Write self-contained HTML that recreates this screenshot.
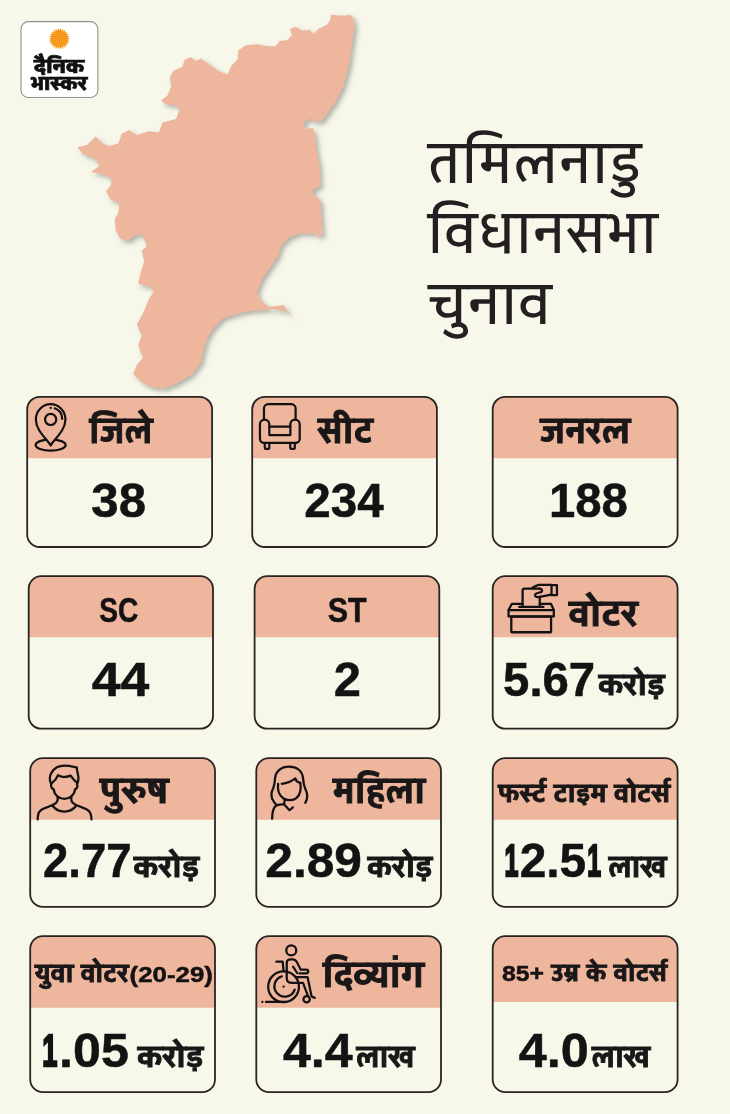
<!DOCTYPE html>
<html lang="hi">
<head>
<meta charset="utf-8">
<title>तमिलनाडु विधानसभा चुनाव</title>
<style>
html,body{margin:0;padding:0;}
body{width:730px;height:1114px;overflow:hidden;background:#f7f8ea;position:relative;
 font-family:"Liberation Sans","Yantramanav","Noto Sans Devanagari","Mukta","Lohit Devanagari",sans-serif;color:#1a1718;}
.abs{position:absolute;}
.hd{fill:#eeb69d;}
.cd{fill:none;stroke:#2a2423;stroke-width:1.8;}
svg text{font-family:"Liberation Sans","Yantramanav","Noto Sans Devanagari","Mukta","Lohit Devanagari",sans-serif;}
.lb{font-weight:700;fill:#1a1718;stroke:#1a1718;stroke-width:0.9;stroke-linejoin:miter;}
.nm{font-weight:700;fill:#141213;stroke:#141213;stroke-width:0.5;}
.tt{font-weight:400;fill:#231f20;}
.lg{font-weight:900;fill:#111;stroke:#111;stroke-width:0.7;}
</style>
</head>
<body>
<svg id="ov" class="abs" style="left:0;top:0" width="730" height="1114" viewBox="0 0 730 1114">
 <defs><filter id="sh" x="-10%" y="-10%" width="125%" height="125%"><feDropShadow dx="3" dy="3" stdDeviation="2.5" flood-color="#6b6b66" flood-opacity="0.5"/></filter></defs>
<rect x="21" y="21.6" width="76.9" height="75.9" rx="7.5" fill="#fff" stroke="#92928e" stroke-width="1.1"/>
<path class="hd" d="M27.2 458.3V409.4A12.6 12.6 0 0 1 39.8 396.8H199.5A12.6 12.6 0 0 1 212.1 409.4V458.3Z"/>
<rect class="cd" x="27.2" y="396.8" width="184.9" height="150.2" rx="12.6" ry="12.6"/>
<path class="hd" d="M252.2 458.3V409.4A12.6 12.6 0 0 1 264.8 396.8H424.3A12.6 12.6 0 0 1 436.9 409.4V458.3Z"/>
<rect class="cd" x="252.2" y="396.8" width="184.7" height="150.2" rx="12.6" ry="12.6"/>
<path class="hd" d="M492.7 458.3V409.4A12.6 12.6 0 0 1 505.3 396.8H665.0A12.6 12.6 0 0 1 677.6 409.4V458.3Z"/>
<rect class="cd" x="492.7" y="396.8" width="184.9" height="150.2" rx="12.6" ry="12.6"/>
<path class="hd" d="M28.7 637.2V588.8A12.6 12.6 0 0 1 41.3 576.2H200.4A12.6 12.6 0 0 1 213.0 588.8V637.2Z"/>
<rect class="cd" x="28.7" y="576.2" width="184.3" height="152.5" rx="12.6" ry="12.6"/>
<path class="hd" d="M254.6 637.2V588.8A12.6 12.6 0 0 1 267.2 576.2H426.7A12.6 12.6 0 0 1 439.3 588.8V637.2Z"/>
<rect class="cd" x="254.6" y="576.2" width="184.7" height="152.5" rx="12.6" ry="12.6"/>
<path class="hd" d="M492.7 637.2V588.8A12.6 12.6 0 0 1 505.3 576.2H665.0A12.6 12.6 0 0 1 677.6 588.8V637.2Z"/>
<rect class="cd" x="492.7" y="576.2" width="184.9" height="152.5" rx="12.6" ry="12.6"/>
<path class="hd" d="M30.2 819.7V770.8A12.6 12.6 0 0 1 42.8 758.2H202.4A12.6 12.6 0 0 1 215.0 770.8V819.7Z"/>
<rect class="cd" x="30.2" y="758.2" width="184.8" height="148.6" rx="12.6" ry="12.6"/>
<path class="hd" d="M256.3 819.7V770.8A12.6 12.6 0 0 1 268.9 758.2H428.4A12.6 12.6 0 0 1 441.0 770.8V819.7Z"/>
<rect class="cd" x="256.3" y="758.2" width="184.7" height="148.6" rx="12.6" ry="12.6"/>
<path class="hd" d="M492.7 819.7V770.8A12.6 12.6 0 0 1 505.3 758.2H665.0A12.6 12.6 0 0 1 677.6 770.8V819.7Z"/>
<rect class="cd" x="492.7" y="758.2" width="184.9" height="148.6" rx="12.6" ry="12.6"/>
<path class="hd" d="M30.2 1007.7V948.8A12.6 12.6 0 0 1 42.8 936.2H202.4A12.6 12.6 0 0 1 215.0 948.8V1007.7Z"/>
<rect class="cd" x="30.2" y="936.2" width="184.8" height="155.9" rx="12.6" ry="12.6"/>
<path class="hd" d="M256.3 1007.7V948.8A12.6 12.6 0 0 1 268.9 936.2H428.4A12.6 12.6 0 0 1 441.0 948.8V1007.7Z"/>
<rect class="cd" x="256.3" y="936.2" width="184.7" height="155.9" rx="12.6" ry="12.6"/>
<path class="hd" d="M492.7 1002.0V948.8A12.6 12.6 0 0 1 505.3 936.2H665.0A12.6 12.6 0 0 1 677.6 948.8V1002.0Z"/>
<rect class="cd" x="492.7" y="936.2" width="184.9" height="155.9" rx="12.6" ry="12.6"/>
 <polygon filter="url(#sh)" fill="#eeb69d" points="77.4,147.2 87.3,144.8 95.9,136.2 102.0,143.5 109.4,146.0 118.1,143.5 121.8,133.7 129.2,130.0 136.6,134.9 148.9,131.2 158.8,132.5 162.5,122.6 176.0,118.9 179.7,109.0 176.0,105.3 164.9,104.1 161.2,100.4 167.4,95.5 171.1,86.8 169.9,77.0 173.6,70.8 182.2,67.1 184.6,59.7 190.8,57.3 195.7,61.0 200.7,58.5 208.1,63.4 217.9,70.8 227.8,74.5 231.3,65.7 237.5,59.6 238.5,50.3 245.7,45.2 257.0,44.2 267.3,46.2 275.5,46.2 279.6,41.1 287.8,40.1 291.9,34.9 289.9,28.8 296.0,26.7 302.2,30.8 309.4,29.8 313.5,33.9 318.6,28.8 326.8,24.7 329.9,20.5 331.0,14.4 337.1,15.4 345.3,15.4 350.5,14.4 353.5,18.5 354.6,26.7 351.5,47.3 348.4,67.8 343.3,86.3 336.1,100.7 328.9,111.0 322.7,119.5 320.5,121.5 312.9,121.5 310.8,118.3 304.3,121.5 304.3,129.0 312.9,128.0 315.1,135.5 316.2,149.5 319.4,164.6 320.5,186.2 312.9,189.4 312.9,193.7 320.5,200.2 321.6,220.6 322.6,233.6 319.4,237.9 316.2,233.6 298.9,233.6 288.2,237.9 280.6,246.5 278.5,255.1 270.9,265.9 262.3,278.8 256.9,291.7 260.2,300.3 268.8,306.8 279.5,305.7 283.9,304.7 286.0,310.0 292.5,315.4 283.9,311.1 273.1,309.0 262.3,310.0 250.0,311.0 237.9,313.5 223.1,318.2 213.3,328.1 207.1,337.9 203.4,350.3 200.9,362.6 191.1,374.9 176.3,383.5 164.0,388.5 151.6,387.2 141.8,382.3 133.1,373.7 136.8,365.0 143.0,357.7 138.1,345.3 141.8,335.5 136.8,324.4 143.0,313.3 149.2,298.5 154.1,291.1 149.2,286.2 138.1,283.7 140.5,273.8 144.2,261.5 141.8,250.4 146.7,246.7 143.0,235.6 135.6,234.4 128.2,240.5 120.8,239.3 115.9,230.7 114.7,219.6 118.4,212.2 119.6,202.3 111.0,199.9 106.0,191.2 110.7,185.5 111.9,179.3 104.5,174.4 91.0,171.9 99.6,165.7 94.7,158.3 82.3,153.4"/>
 <g transform="translate(59.3 38.8)" fill="#f59a1c"><circle r="8.4"/><polygon points="10.80,0.00 8.14,0.99 10.49,2.58 7.67,2.91 9.56,5.02 6.75,4.66 8.08,7.16 5.44,6.14 6.14,8.89 3.81,7.26 3.83,10.10 1.96,7.96 1.30,10.72 -0.00,8.20 -1.30,10.72 -1.96,7.96 -3.83,10.10 -3.81,7.26 -6.14,8.89 -5.44,6.14 -8.08,7.16 -6.75,4.66 -9.56,5.02 -7.67,2.91 -10.49,2.58 -8.14,0.99 -10.80,-0.00 -8.14,-0.99 -10.49,-2.58 -7.67,-2.91 -9.56,-5.02 -6.75,-4.66 -8.08,-7.16 -5.44,-6.14 -6.14,-8.89 -3.81,-7.26 -3.83,-10.10 -1.96,-7.96 -1.30,-10.72 -0.00,-8.20 1.30,-10.72 1.96,-7.96 3.83,-10.10 3.81,-7.26 6.14,-8.89 5.44,-6.14 8.08,-7.16 6.75,-4.66 9.56,-5.02 7.67,-2.91 10.49,-2.58 8.14,-0.99"/></g>
<text class="lb" x="89.4" y="442.65" font-size="38" textLength="63.67" lengthAdjust="spacingAndGlyphs">जिले</text>
<text class="lb" x="317.92" y="442.75" font-size="38" textLength="55.32" lengthAdjust="spacingAndGlyphs">सीट</text>
<text class="lb" x="540.21" y="442.75" font-size="38" textLength="90.54" lengthAdjust="spacingAndGlyphs">जनरल</text>
<text class="nm" x="91.32" y="516.55" font-size="48" textLength="54.75" lengthAdjust="spacingAndGlyphs">38</text>
<text class="nm" x="304.27" y="516.55" font-size="48" textLength="79.37" lengthAdjust="spacingAndGlyphs">234</text>
<text class="nm" x="548.89" y="516.55" font-size="48" textLength="78.93" lengthAdjust="spacingAndGlyphs">188</text>
<text class="nm" x="99.35" y="621.85" font-size="35" textLength="39.01" lengthAdjust="spacingAndGlyphs">SC</text>
<text class="nm" x="327.78" y="621.85" font-size="35" textLength="39.01" lengthAdjust="spacingAndGlyphs">ST</text>
<text class="lb" x="568.96" y="626.45" font-size="38" textLength="69.32" lengthAdjust="spacingAndGlyphs">वोटर</text>
<text class="nm" x="91.77" y="695.65" font-size="48" textLength="57.6" lengthAdjust="spacingAndGlyphs">44</text>
<text class="nm" x="333.82" y="695.65" font-size="48" textLength="27.17" lengthAdjust="spacingAndGlyphs">2</text>
<text class="nm" x="503.08" y="695.65" font-size="48" textLength="92.06" lengthAdjust="spacingAndGlyphs">5.67</text>
<text class="lb" x="598.75" y="695.45" font-size="31" textLength="66.17" lengthAdjust="spacingAndGlyphs" stroke-width="0.7">करोड़</text>
<text class="lb" x="100.11" y="803.35" font-size="38" textLength="68.8" lengthAdjust="spacingAndGlyphs">पुरुष</text>
<text class="lb" x="332.92" y="803.35" font-size="38" textLength="92.62" lengthAdjust="spacingAndGlyphs">महिला</text>
<text class="lb" x="498.25" y="801.65" font-size="26.2" textLength="172.35" lengthAdjust="spacingAndGlyphs" stroke-width="0.5">फर्स्ट टाइम वोटर्स</text>
<text class="nm" x="42.95" y="877.25" font-size="48" textLength="88.59" lengthAdjust="spacingAndGlyphs">2.77</text>
<text class="lb" x="133.95" y="876.95" font-size="31" textLength="65.38" lengthAdjust="spacingAndGlyphs" stroke-width="0.7">करोड़</text>
<text class="nm" x="265.28" y="877.25" font-size="48" textLength="96.74" lengthAdjust="spacingAndGlyphs">2.89</text>
<text class="lb" x="367.65" y="876.95" font-size="31" textLength="64.98" lengthAdjust="spacingAndGlyphs" stroke-width="0.7">करोड़</text>
<text class="nm"><tspan x="504.53" y="876.3" font-size="45" textLength="13.95" lengthAdjust="spacingAndGlyphs" stroke-width="2.4">1</tspan><tspan x="519.66" y="877.25" font-size="48" textLength="66.52" lengthAdjust="spacingAndGlyphs" stroke-width="0.5">2.5</tspan><tspan x="587.34" y="876.3" font-size="45" textLength="13.83" lengthAdjust="spacingAndGlyphs" stroke-width="2.4">1</tspan></text>
<text class="lb" x="608.65" y="877.15" font-size="31" textLength="58.25" lengthAdjust="spacingAndGlyphs" stroke-width="0.7">लाख</text>
<text class="lb" x="34.95" y="982.15" font-size="26.2" textLength="93.91" lengthAdjust="spacingAndGlyphs" stroke-width="0.5">युवा वोटर</text>
<text class="nm" x="129.61" y="982.15" font-size="22.7" textLength="83.24" lengthAdjust="spacingAndGlyphs">(20-29)</text>
<text class="lb" x="322.94" y="987.15" font-size="38" textLength="101.53" lengthAdjust="spacingAndGlyphs">दिव्यांग</text>
<text class="nm" x="501.94" y="980.95" font-size="22.2" textLength="41.93" lengthAdjust="spacingAndGlyphs">85+</text>
<text class="lb" x="551.15" y="980.95" font-size="25.7" textLength="116.28" lengthAdjust="spacingAndGlyphs" stroke-width="0.5">उम्र के वोटर्स</text>
<text class="nm"><tspan x="42.19" y="1066.0" font-size="45" textLength="15.14" lengthAdjust="spacingAndGlyphs" stroke-width="2.4">1</tspan><tspan x="59.11" y="1066.95" font-size="48" textLength="69.75" lengthAdjust="spacingAndGlyphs" stroke-width="0.5">.05</tspan></text>
<text class="lb" x="137.65" y="1066.85" font-size="31" textLength="65.97" lengthAdjust="spacingAndGlyphs" stroke-width="0.7">करोड़</text>
<text class="nm" x="282.9" y="1066.95" font-size="48" textLength="69.81" lengthAdjust="spacingAndGlyphs">4.4</text>
<text class="lb" x="356.45" y="1066.85" font-size="31" textLength="58.35" lengthAdjust="spacingAndGlyphs" stroke-width="0.7">लाख</text>
<text class="nm" x="518.7" y="1066.95" font-size="48" textLength="70.07" lengthAdjust="spacingAndGlyphs">4.0</text>
<text class="lb" x="591.95" y="1066.85" font-size="31" textLength="58.35" lengthAdjust="spacingAndGlyphs" stroke-width="0.7">लाख</text>
<text class="tt" x="427.69" y="182.9" font-size="61.7" textLength="214.01" lengthAdjust="spacingAndGlyphs">तमिलनाडु</text>
<text class="tt" x="427.69" y="253.3" font-size="61.7" textLength="230.39" lengthAdjust="spacingAndGlyphs">विधानसभा</text>
<text class="tt" x="428.3" y="323.7" font-size="61.7" textLength="123.86" lengthAdjust="spacingAndGlyphs">चुनाव</text>
<text class="lg" x="33.95" y="73.25" font-size="20" textLength="50.35" lengthAdjust="spacingAndGlyphs">दैनिक</text>
<text class="lg" x="31.15" y="89.55" font-size="20" textLength="56.35" lengthAdjust="spacingAndGlyphs">भास्कर</text>
<g fill="none" stroke="#141112" stroke-linecap="round" stroke-linejoin="round">
<!-- pin : zoom origin 26,396 scale 1/12.17 -->
<g transform="translate(26 396) scale(0.08217)" stroke-width="27">
 <ellipse cx="300" cy="597" rx="183" ry="68"/>
 <path fill="#eeb69d" d="M300 600 C250 520 120 420 120 285 A180 185 0 0 1 480 285 C480 420 350 520 300 600 Z"/>
 <circle cx="300" cy="285" r="68"/>
 <path d="M350 150 A140 140 0 0 1 440 280"/>
 <path d="M300 145 h1"/>
</g>
<!-- armchair : origin 250,396 -->
<g transform="translate(250 396) scale(0.08217)" stroke-width="27">
 <path d="M170 285 V150 a50 50 0 0 1 50 -50 H505 a50 50 0 0 1 50 50 V285"/>
 <path d="M235 475 V345 a57 57 0 0 0 -114 0 V520 a50 50 0 0 0 50 50 H555 a50 50 0 0 0 50 -50 V345 a57 57 0 0 0 -114 0 V475 Z"/>
 <path d="M235 372 H490"/>
 <path d="M180 572 V632 a12 12 0 0 0 12 12 h31 a12 12 0 0 0 12 -12 V572"/>
 <path d="M490 572 V632 a12 12 0 0 0 12 12 h31 a12 12 0 0 0 12 -12 V572"/>
</g>
<!-- ballot : origin 500,578 scale 1/11.06 -->
<g transform="translate(500 578) scale(0.09041)" stroke-width="25">
 <rect x="125" y="428" width="440" height="172" rx="8"/>
 <path d="M95 355 H595 V425 H95 Z"/>
 <path d="M95 355 L130 287 H250 M440 287 H565 L595 355"/>
 <path d="M212 320 H480"/>
 <path d="M250 315 V140 a22 22 0 0 1 22 -22 H440 M440 215 V315"/>
 <path d="M355 112 C380 95 400 80 430 75 H570 M570 185 C520 195 470 205 425 212 C395 215 380 195 390 180 C405 165 425 165 445 158 C475 150 470 122 440 118"/>
 <path d="M570 80 H630 V190 H570 Z"/>
</g>
<!-- man : origin 30,758 -->
<g transform="translate(30 758) scale(0.09041)" stroke-width="25">
 <path d="M235 290 C215 250 215 200 240 160 C270 110 330 85 380 85 C430 85 470 95 520 105 C515 130 525 150 530 180 C540 220 535 260 520 290"/>
 <path d="M245 275 C280 250 300 215 310 190 C340 205 360 212 385 210 C410 208 430 203 450 195 C470 225 490 250 515 268"/>
 <path d="M235 290 C228 312 240 338 262 347 C268 412 328 452 380 452 C432 452 492 412 498 347 C520 338 532 312 520 290"/>
 <path d="M305 432 C310 460 305 480 290 495 C270 515 240 525 200 540 C150 555 110 570 95 610 C88 635 85 660 85 680"/>
 <path d="M458 432 C452 460 458 480 472 495 C492 515 520 525 560 540 C610 555 650 570 668 610 C676 635 680 660 680 680"/>
 <path d="M250 528 C280 570 330 592 380 592 C430 592 480 570 510 528"/>
</g>
<!-- woman : origin 256,758 -->
<g transform="translate(256 758) scale(0.09041)" stroke-width="25">
 <path d="M545 495 C575 450 570 390 545 340 C525 300 525 270 520 220 C510 140 450 95 365 95 C280 95 215 145 210 230 C208 270 205 300 190 335 C165 385 165 440 195 480 C205 495 215 510 225 516"/>
 <path d="M245 285 C235 350 255 410 300 445 C345 475 410 475 450 440 C490 405 500 340 490 275"/>
 <path d="M285 285 C340 280 390 260 435 225 C440 250 460 270 490 275"/>
 <path d="M305 512 C270 515 240 515 220 528 C190 550 180 600 178 672"/>
 <path d="M318 462 L310 512 L370 578 L408 545"/>
</g>
<!-- wheelchair : origin 256,940 -->
<g transform="translate(256 940) scale(0.09041)" stroke-width="25">
 <circle cx="390" cy="115" r="55"/>
 <circle cx="305" cy="517" r="170"/>
 <path d="M285 402 A115 115 0 1 0 428 548"/>
 <path d="M305 517 h1"/>
 <path d="M225 240 H295 L305 345"/>
 <path d="M340 345 V250 C340 215 380 210 410 215 C440 220 455 245 465 270 L495 328 H555 C585 328 585 370 555 370 H480"/>
 <path d="M410 295 L455 365"/>
 <path d="M340 345 V420 C340 460 370 475 400 475 H520 L575 620"/>
 <path d="M450 410 H570 L615 625 L650 640"/>
 <circle cx="560" cy="655" r="35"/>
 <path d="M110 685 H330 M70 685 h1"/>
</g>
</g>

</svg>
</body>
</html>
